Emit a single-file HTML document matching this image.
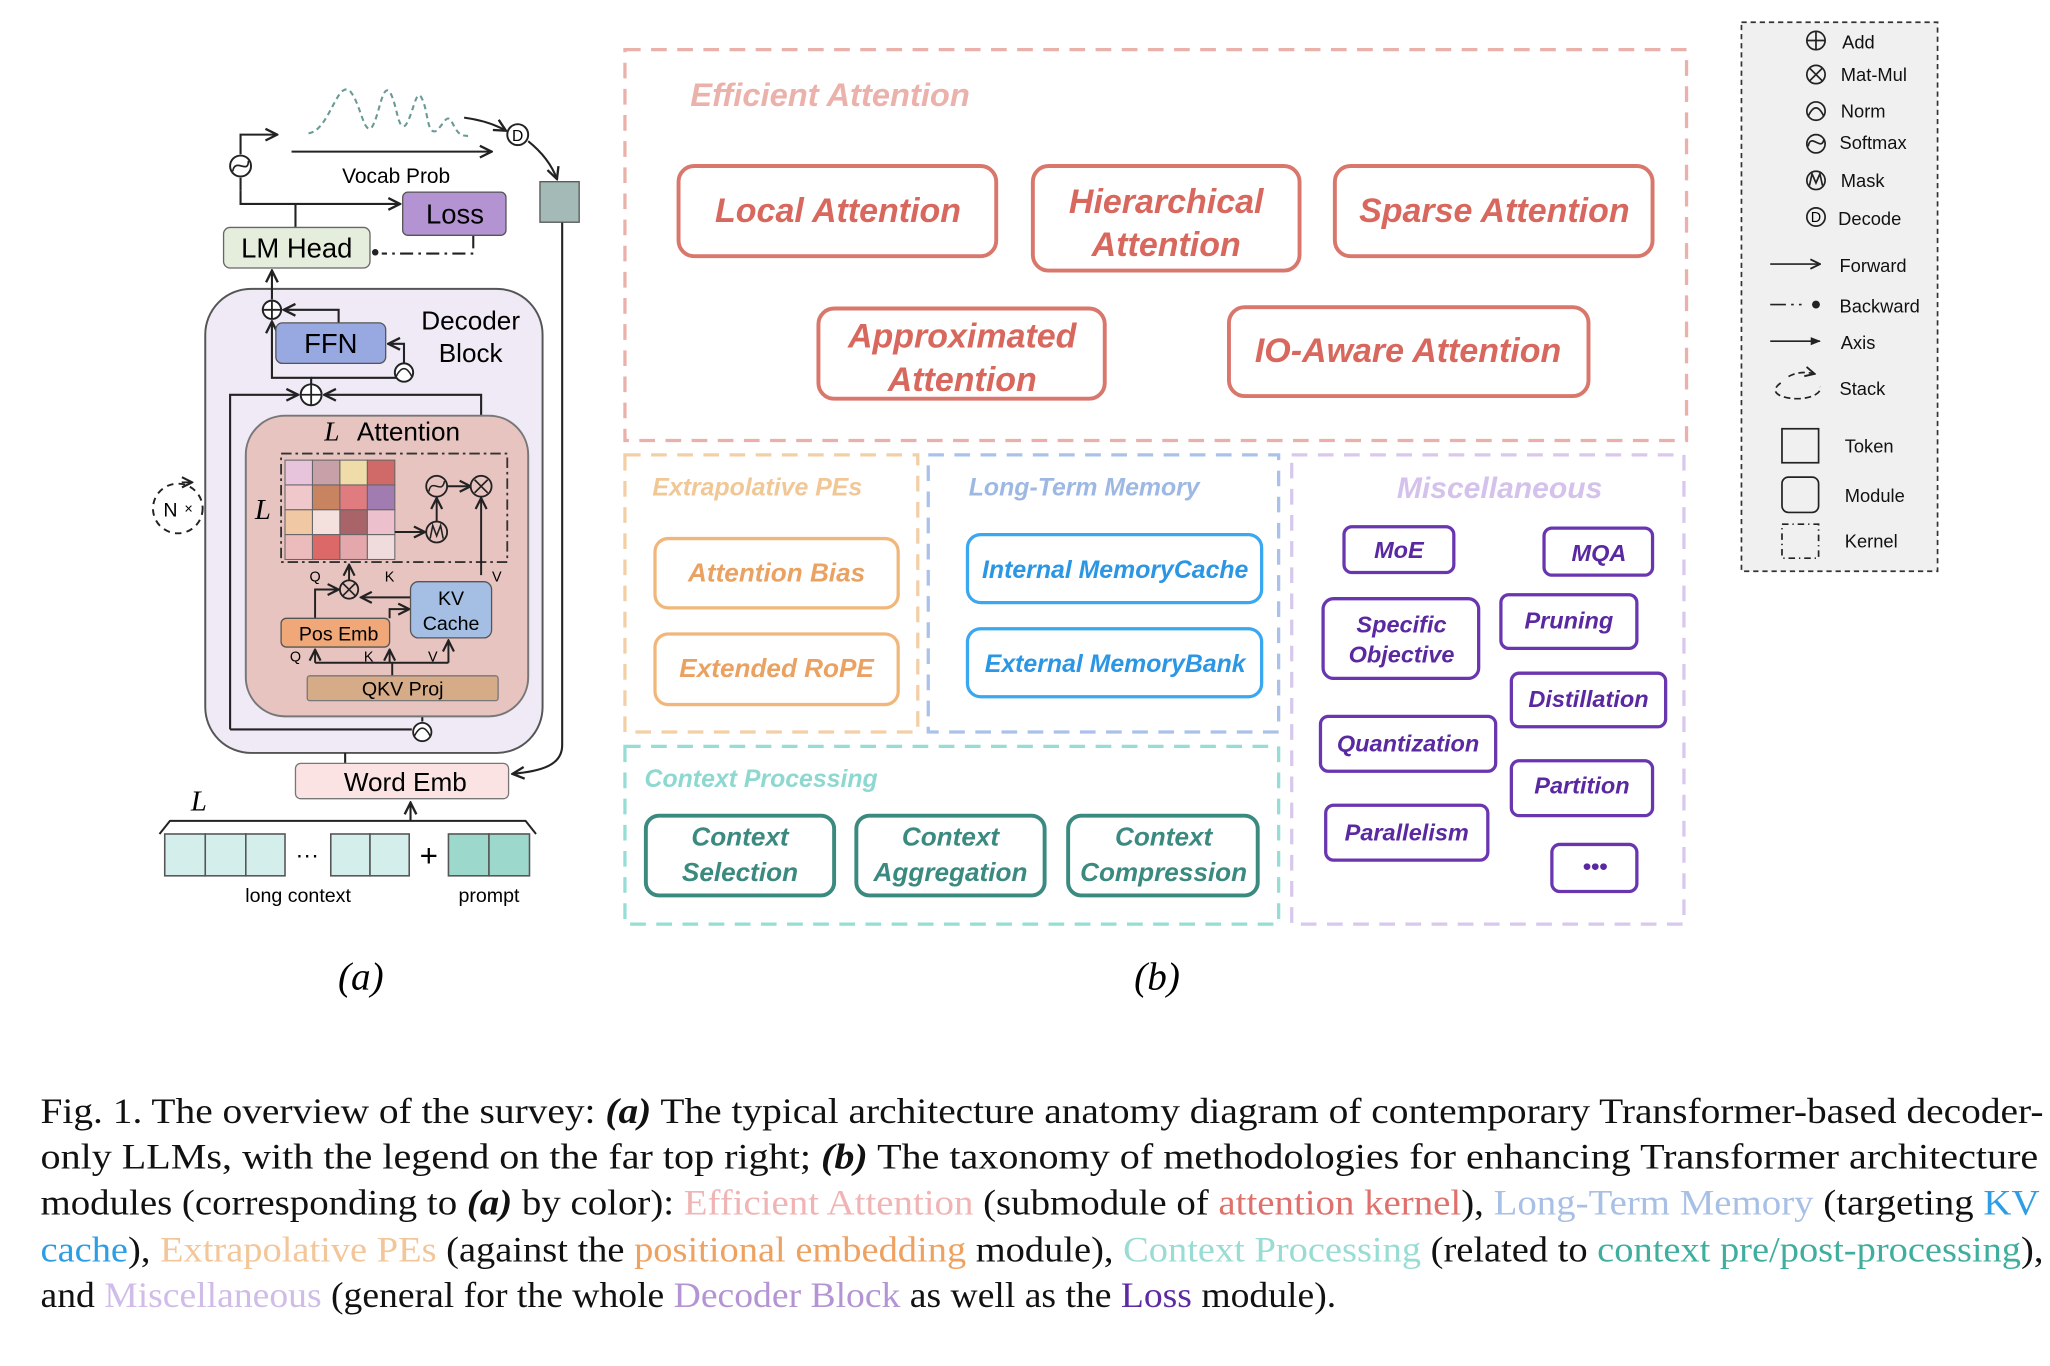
<!DOCTYPE html>
<html><head><meta charset="utf-8"><style>
html,body{margin:0;padding:0;background:#fff}
svg{display:block}
text{font-family:"Liberation Sans",sans-serif}
.b{font-style:italic;font-weight:bold}
text.s,.s text,.s tspan{font-family:"Liberation Serif",serif}
</style></head><body>
<svg width="2050" height="1366" viewBox="0 0 1568 1045" preserveAspectRatio="none" xmlns="http://www.w3.org/2000/svg">
<defs>
<marker id="a" viewBox="0 0 10 10" refX="9" refY="5" markerWidth="7" markerHeight="7" orient="auto"><path d="M1,1 L9,5 L1,9" fill="none" stroke="#222" stroke-width="1.6"/></marker>
<marker id="f" viewBox="0 0 10 10" refX="9" refY="5" markerWidth="6" markerHeight="6" orient="auto"><path d="M0,1 L10,5 L0,9z" fill="#222"/></marker>
</defs>
<rect width="1568" height="1045" fill="#fff"/>

<!-- ===== (a) ===== -->
<g stroke="#222" stroke-width="1.6" fill="none">
<path d="M236,102 C252,100 258,60 268,70 C276,80 278,102 284,98 C290,90 292,64 298,70 C304,80 304,100 310,96 C316,88 318,68 322,74 C328,84 326,104 334,100 C340,94 342,86 346,94 C350,102 352,104 358,104" stroke="#6a9a96" stroke-dasharray="4,3"/>
<path d="M184,118 V103 H212" marker-end="url(#a)"/>
<path d="M223,116 H376" marker-end="url(#a)"/>
<path d="M184,146 V156 H306" marker-end="url(#a)"/>
<path d="M184,146 V136" />
<path d="M226,174 V156"/>
<path d="M362,180 V194 H292" stroke-dasharray="10,4,2,4"/>
<path d="M355,90 C370,92 380,96 387,100" marker-end="url(#a)"/>
<path d="M404,108 C414,116 422,126 426,137" marker-end="url(#a)"/>
<path d="M430,170 V570 C430,585 415,590 392,592" marker-end="url(#a)"/>
</g>
<circle cx="184" cy="127" r="8" fill="#fff" stroke="#222" stroke-width="1.5"/>
<path d="M178,131 C180,120 190,134 190,123" stroke="#222" fill="none" stroke-width="1.3"/>
<circle cx="396" cy="103" r="8" fill="#fff" stroke="#222" stroke-width="1.5"/>
<text x="396" y="108" font-size="12" text-anchor="middle">D</text>
<text x="303" y="140" font-size="16" text-anchor="middle">Vocab Prob</text>
<rect x="413" y="139" width="30" height="31" fill="#a3bab6" stroke="#555"/>
<rect x="308" y="147" width="79" height="33" rx="4" fill="#b493d2" stroke="#555"/>
<text x="348" y="171" font-size="21" text-anchor="middle">Loss</text>
<rect x="171" y="174" width="112" height="31" rx="5" fill="#e5eedd" stroke="#666"/>
<text x="227" y="197" font-size="21" text-anchor="middle">LM Head</text>
<circle cx="287" cy="193" r="2.5" fill="#222"/>

<rect x="157" y="221" width="258" height="355" rx="35" fill="#efeaf6" stroke="#555" stroke-width="1.5"/>
<text x="360" y="252" font-size="20" text-anchor="middle">Decoder</text>
<text x="360" y="277" font-size="20" text-anchor="middle">Block</text>
<g stroke="#222" stroke-width="1.6" fill="none">
<path d="M208,229 V207" marker-end="url(#a)"/>
<path d="M259,247 V237 H217" marker-end="url(#a)"/>
<path d="M309,278 V263 H297" marker-end="url(#a)"/>
<path d="M238,294 V289 H208 V246" marker-end="url(#a)"/>
<path d="M238,289 H309 V278"/>
<path d="M176,558 V302 H228" marker-end="url(#a)"/>
<path d="M368,365 V302 H248" marker-end="url(#a)"/>
<path d="M176,558 H315"/>
<path d="M264,576 V584"/>
<path d="M323,552 V538" marker-end="url(#a)"/>
</g>
<rect x="211" y="247" width="84" height="31" rx="5" fill="#98a8e0" stroke="#555"/>
<text x="253" y="270" font-size="21" text-anchor="middle">FFN</text>
<circle cx="208" cy="237" r="7" fill="#fff" stroke="#222" stroke-width="1.5"/>
<path d="M201,237 H215 M208,230 V244" stroke="#222" stroke-width="1.4"/>
<circle cx="238" cy="302" r="8" fill="#fff" stroke="#222" stroke-width="1.5"/>
<path d="M230,302 H246 M238,294 V310" stroke="#222" stroke-width="1.4"/>
<circle cx="309" cy="285" r="7" fill="#fff" stroke="#222" stroke-width="1.5"/>
<path d="M303,288 Q309,276 315,288" stroke="#222" fill="none" stroke-width="1.2"/>

<rect x="188" y="318" width="216" height="230" rx="30" fill="#e8c4c0" stroke="#777" stroke-width="1.5"/>
<text x="248" y="337" font-size="21" class="s" font-style="italic">L</text>
<text x="273" y="337" font-size="20">Attention</text>
<rect x="215" y="347" width="173" height="83" fill="none" stroke="#333" stroke-width="1.4" stroke-dasharray="8,3,2,3"/>
<g stroke="#666" stroke-width="0.8">
<rect x="218" y="352" width="21" height="19" fill="#e8c4dc"/><rect x="239" y="352" width="21" height="19" fill="#c8a0a8"/><rect x="260" y="352" width="21" height="19" fill="#f0dca8"/><rect x="281" y="352" width="21" height="19" fill="#d06a68"/>
<rect x="218" y="371" width="21" height="19" fill="#f0c8cc"/><rect x="239" y="371" width="21" height="19" fill="#c88460"/><rect x="260" y="371" width="21" height="19" fill="#e07c80"/><rect x="281" y="371" width="21" height="19" fill="#a07cb0"/>
<rect x="218" y="390" width="21" height="19" fill="#f0c8a4"/><rect x="239" y="390" width="21" height="19" fill="#f4e0dc"/><rect x="260" y="390" width="21" height="19" fill="#a86468"/><rect x="281" y="390" width="21" height="19" fill="#ecc0cc"/>
<rect x="218" y="409" width="21" height="19" fill="#ecbcbc"/><rect x="239" y="409" width="21" height="19" fill="#dc6868"/><rect x="260" y="409" width="21" height="19" fill="#e4a8ac"/><rect x="281" y="409" width="21" height="19" fill="#f0dcdc"/>
</g>
<text x="195" y="397" font-size="22" class="s" font-style="italic">L</text>
<g stroke="#222" stroke-width="1.5" fill="none">
<path d="M302,407 H325" marker-end="url(#a)"/>
<path d="M334,400 V381" marker-end="url(#a)"/>
<path d="M342,372 H360" marker-end="url(#a)"/>
<path d="M368,440 V381" marker-end="url(#a)"/>
<path d="M267,444 V432" marker-end="url(#a)"/>
<path d="M241,473 V451 H259" marker-end="url(#a)"/>
<path d="M314,457 H276" marker-end="url(#a)"/>
<path d="M298,473 V466 H313" marker-end="url(#a)"/>
<path d="M241,507 V497" marker-end="url(#a)"/>
<path d="M298,507 V497" marker-end="url(#a)"/>
<path d="M343,507 V490" marker-end="url(#a)"/>
<path d="M241,507 H343 M300,507 V517"/>
</g>
<circle cx="334" cy="372" r="8" fill="#e8c4c0" stroke="#222" stroke-width="1.4"/>
<path d="M328,376 C330,365 338,379 340,368" stroke="#222" fill="none" stroke-width="1.2"/>
<circle cx="368" cy="372" r="8" fill="#e8c4c0" stroke="#222" stroke-width="1.4"/>
<path d="M363,367 L373,377 M373,367 L363,377" stroke="#222" stroke-width="1.3"/>
<circle cx="334" cy="407" r="8" fill="#e8c4c0" stroke="#222" stroke-width="1.4"/>
<path d="M329,412 L331,402 L334,410 L337,402 L339,412" stroke="#222" fill="none" stroke-width="1.2"/>
<circle cx="267" cy="451" r="7" fill="#e8c4c0" stroke="#222" stroke-width="1.4"/>
<path d="M262,446 L272,456 M272,446 L262,456" stroke="#222" stroke-width="1.3"/>
<text x="241" y="445" font-size="11" text-anchor="middle">Q</text>
<text x="298" y="445" font-size="11" text-anchor="middle">K</text>
<text x="380" y="445" font-size="11" text-anchor="middle">V</text>
<rect x="215" y="473" width="83" height="22" rx="4" fill="#f0a878" stroke="#555"/>
<text x="259" y="490" font-size="15" text-anchor="middle">Pos Emb</text>
<rect x="314" y="445" width="62" height="43" rx="6" fill="#a4bee4" stroke="#555"/>
<text x="345" y="463" font-size="15" text-anchor="middle">KV</text>
<text x="345" y="482" font-size="15" text-anchor="middle">Cache</text>
<text x="226" y="506" font-size="11" text-anchor="middle">Q</text>
<text x="282" y="506" font-size="11" text-anchor="middle">K</text>
<text x="331" y="506" font-size="11" text-anchor="middle">V</text>
<rect x="235" y="517" width="146" height="19" rx="2" fill="#d5ab88" stroke="#777"/>
<text x="308" y="532" font-size="15" text-anchor="middle">QKV Proj</text>
<circle cx="323" cy="560" r="7" fill="#fff" stroke="#222" stroke-width="1.4"/>
<path d="M317,563 Q323,551 329,563" stroke="#222" fill="none" stroke-width="1.2"/>

<circle cx="136" cy="389" r="19" fill="none" stroke="#222" stroke-width="1.5" stroke-dasharray="5,4"/>
<text x="125" y="395" font-size="15">N</text><text x="141" y="393" font-size="11">×</text>
<path d="M139,369 L147,369" stroke="#222" stroke-width="1.4" marker-end="url(#a)"/>

<rect x="226" y="584" width="163" height="27" rx="4" fill="#fbe3e3" stroke="#777"/>
<text x="310" y="605" font-size="20" text-anchor="middle">Word Emb</text>
<path d="M314,628 V614" stroke="#222" stroke-width="1.6" marker-end="url(#a)"/>
<path d="M122,638 L130,628 H402 L410,638" stroke="#222" stroke-width="1.5" fill="none"/>
<text x="146" y="620" font-size="22" class="s" font-style="italic">L</text>
<g stroke="#555" stroke-width="1.2">
<rect x="126" y="638" width="31" height="32" fill="#d4eeec"/><rect x="157" y="638" width="31" height="32" fill="#d4eeec"/><rect x="188" y="638" width="30" height="32" fill="#d4eeec"/>
<rect x="253" y="638" width="30" height="32" fill="#d4eeec"/><rect x="283" y="638" width="30" height="32" fill="#d4eeec"/>
<rect x="343" y="638" width="31" height="32" fill="#9cd8cc"/><rect x="374" y="638" width="31" height="32" fill="#9cd8cc"/>
</g>
<text x="235" y="660" font-size="18" text-anchor="middle">···</text>
<text x="328" y="663" font-size="24" text-anchor="middle">+</text>
<text x="228" y="690" font-size="15" text-anchor="middle">long context</text>
<text x="374" y="690" font-size="15" text-anchor="middle">prompt</text>
<text x="276" y="757" font-size="30" class="s" font-style="italic" text-anchor="middle">(a)</text>
<text x="885" y="757" font-size="30" class="s" font-style="italic" text-anchor="middle">(b)</text>

<!-- ===== (b) ===== -->
<g fill="none" stroke-width="2.5" stroke-dasharray="12,8">
<rect x="478" y="38" width="812" height="299" stroke="#eab0aa"/>
<rect x="478" y="348" width="224" height="212" stroke="#f3cfa6"/>
<rect x="710" y="348" width="268" height="212" stroke="#aac2ea"/>
<rect x="478" y="571" width="500" height="136" stroke="#96ddd6"/>
<rect x="988" y="348" width="300" height="359" stroke="#d8c8ec"/>
</g>
<text x="528" y="81" font-size="25" class="b" fill="#ebb2ac">Efficient Attention</text>
<text x="499" y="379" font-size="19" class="b" fill="#f1c796">Extrapolative PEs</text>
<text x="741" y="379" font-size="19" class="b" fill="#9eb8e4">Long-Term Memory</text>
<text x="493" y="602" font-size="19" class="b" fill="#8dd8d0">Context Processing</text>
<text x="1147" y="381" font-size="23" class="b" fill="#d4c2ec" text-anchor="middle">Miscellaneous</text>

<g fill="#fff" stroke="#d9776c" stroke-width="3">
<rect x="519" y="127" width="243" height="69" rx="12"/>
<rect x="790" y="127" width="204" height="80" rx="12"/>
<rect x="1021" y="127" width="243" height="69" rx="12"/>
<rect x="626" y="236" width="219" height="69" rx="12"/>
<rect x="940" y="235" width="275" height="68" rx="12"/>
</g>
<g font-size="26" class="b" fill="#d8685e" text-anchor="middle">
<text x="641" y="170" class="b">Local Attention</text>
<text x="892" y="163" class="b">Hierarchical</text><text x="892" y="196" class="b">Attention</text>
<text x="1143" y="170" class="b">Sparse Attention</text>
<text x="736" y="266" class="b">Approximated</text><text x="736" y="299" class="b">Attention</text>
<text x="1077" y="277" class="b">IO-Aware Attention</text>
</g>
<g fill="#fff" stroke-width="2.5">
<rect x="501" y="412" width="186" height="53" rx="10" stroke="#f1b77a"/>
<rect x="501" y="485" width="186" height="54" rx="10" stroke="#f1b77a"/>
<rect x="740" y="409" width="225" height="52" rx="10" stroke="#3aa8f0"/>
<rect x="740" y="481" width="225" height="52" rx="10" stroke="#3aa8f0"/>
<rect x="494" y="624" width="144" height="61" rx="10" stroke="#3b8a80" stroke-width="3"/>
<rect x="655" y="624" width="144" height="61" rx="10" stroke="#3b8a80" stroke-width="3"/>
<rect x="817" y="624" width="145" height="61" rx="10" stroke="#3b8a80" stroke-width="3"/>
</g>
<g class="b" text-anchor="middle" font-size="20">
<text x="594" y="445" class="b" fill="#eaa262">Attention Bias</text>
<text x="594" y="518" class="b" fill="#eaa262">Extended RoPE</text>
<text x="853" y="442" class="b" fill="#2a96e4" font-size="19">Internal MemoryCache</text>
<text x="853" y="514" class="b" fill="#2a96e4" font-size="19">External MemoryBank</text>
<text x="566" y="647" class="b" fill="#3b8a80">Context</text><text x="566" y="674" class="b" fill="#3b8a80">Selection</text>
<text x="727" y="647" class="b" fill="#3b8a80">Context</text><text x="727" y="674" class="b" fill="#3b8a80">Aggregation</text>
<text x="890" y="647" class="b" fill="#3b8a80">Context</text><text x="890" y="674" class="b" fill="#3b8a80">Compression</text>
</g>
<g fill="#fff" stroke="#6a36b0" stroke-width="2.5">
<rect x="1028" y="403" width="84" height="35" rx="6"/>
<rect x="1181" y="404" width="83" height="36" rx="6"/>
<rect x="1012" y="458" width="119" height="61" rx="8"/>
<rect x="1148" y="455" width="104" height="41" rx="6"/>
<rect x="1156" y="515" width="118" height="41" rx="6"/>
<rect x="1010" y="548" width="134" height="42" rx="6"/>
<rect x="1156" y="582" width="108" height="42" rx="6"/>
<rect x="1014" y="616" width="124" height="42" rx="6"/>
<rect x="1187" y="646" width="65" height="36" rx="6"/>
</g>
<g class="b" fill="#5a28a0" font-size="18" text-anchor="middle">
<text x="1070" y="427" class="b">MoE</text>
<text x="1223" y="429" class="b">MQA</text>
<text x="1072" y="484" class="b">Specific</text><text x="1072" y="507" class="b">Objective</text>
<text x="1200" y="481" class="b">Pruning</text>
<text x="1215" y="541" class="b">Distillation</text>
<text x="1077" y="575" class="b">Quantization</text>
<text x="1210" y="607" class="b">Partition</text>
<text x="1076" y="643" class="b">Parallelism</text>
<text x="1220" y="669" class="b">•••</text>
</g>

<!-- ===== legend ===== -->
<rect x="1332" y="17" width="150" height="420" fill="#f0f0f0" stroke="#333" stroke-width="1.3" stroke-dasharray="4,3"/>
<g stroke="#222" stroke-width="1.3" fill="none">
<circle cx="1389" cy="31" r="7"/><path d="M1382,31 H1396 M1389,24 V38"/>
<circle cx="1389" cy="57" r="7"/><path d="M1384,52 L1394,62 M1394,52 L1384,62"/>
<circle cx="1389" cy="85" r="7"/><path d="M1383,89 Q1389,76 1395,89"/>
<circle cx="1389" cy="110" r="7"/><path d="M1383,112 C1385,101 1393,116 1395,107"/>
<circle cx="1389" cy="138" r="7"/><path d="M1384,142 L1386,133 L1389,140 L1392,133 L1394,142"/>
<circle cx="1389" cy="166" r="7"/>
<path d="M1354,202 H1392" marker-end="url(#a)"/>
<path d="M1354,233 H1366 M1370,233 H1372 M1376,233 H1378"/>
<path d="M1354,261 H1392" marker-end="url(#f)"/>
<path d="M1362,293 C1352,300 1362,305 1375,305 C1386,305 1394,300 1392,296" stroke-dasharray="5,3"/>
<path d="M1368,288 C1374,285 1380,284 1388,286" stroke-dasharray="5,3" marker-end="url(#a)"/>
<rect x="1363" y="328" width="28" height="26"/>
<rect x="1363" y="365" width="28" height="27" rx="5"/>
<rect x="1363" y="401" width="28" height="26" stroke-dasharray="5,3,1,3"/>
</g>
<circle cx="1389" cy="233" r="3" fill="#222"/>
<text x="1389" y="170" font-size="11" text-anchor="middle">D</text>
<g font-size="14" fill="#111">
<text x="1409" y="37">Add</text><text x="1408" y="62">Mat-Mul</text><text x="1408" y="90">Norm</text>
<text x="1407" y="114">Softmax</text><text x="1408" y="143">Mask</text><text x="1406" y="172">Decode</text>
<text x="1407" y="208">Forward</text><text x="1407" y="239">Backward</text><text x="1408" y="267">Axis</text>
<text x="1407" y="302">Stack</text><text x="1411" y="346">Token</text><text x="1411" y="384">Module</text><text x="1411" y="419">Kernel</text>
</g>

<!-- ===== caption ===== -->
<g class="s" font-size="27.5" fill="#111">
<text x="31" y="859" textLength="1532" lengthAdjust="spacingAndGlyphs">Fig. 1.  The overview of the survey: <tspan font-style="italic" font-weight="bold">(a)</tspan> The typical architecture anatomy diagram of contemporary Transformer-based decoder-</text>
<text x="31" y="894" textLength="1528" lengthAdjust="spacingAndGlyphs">only LLMs, with the legend on the far top right; <tspan font-style="italic" font-weight="bold">(b)</tspan> The taxonomy of methodologies for enhancing Transformer architecture</text>
<text x="31" y="929" textLength="1529" lengthAdjust="spacingAndGlyphs">modules (corresponding to <tspan font-style="italic" font-weight="bold">(a)</tspan> by color): <tspan fill="#f0b4b4">Efficient Attention</tspan> (submodule of <tspan fill="#e0706c">attention kernel</tspan>), <tspan fill="#a8bfe6">Long-Term Memory</tspan> (targeting <tspan fill="#2e9ee4">KV</tspan></text>
<text x="31" y="965" textLength="1532" lengthAdjust="spacingAndGlyphs"><tspan fill="#2e9ee4">cache</tspan>), <tspan fill="#f3c69a">Extrapolative PEs</tspan> (against the <tspan fill="#eea262">positional embedding</tspan> module), <tspan fill="#98dcd4">Context Processing</tspan> (related to <tspan fill="#3fae9e">context pre/post-processing</tspan>),</text>
<text x="31" y="1000" textLength="991" lengthAdjust="spacingAndGlyphs">and <tspan fill="#d0bce8">Miscellaneous</tspan> (general for the whole <tspan fill="#b494d4">Decoder Block</tspan> as well as the <tspan fill="#5e2aa4">Loss</tspan> module).</text>
</g>
</svg>
</body></html>
